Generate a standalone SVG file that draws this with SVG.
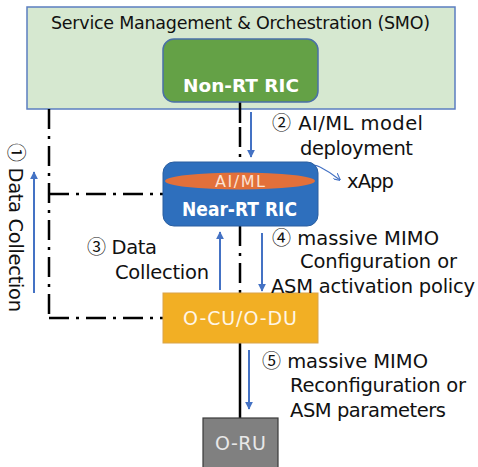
<svg xmlns="http://www.w3.org/2000/svg" width="478" height="467" viewBox="0 0 478 467">
<defs>
<style>
text{font-family:"DejaVu Sans","Noto Sans","Noto Sans CJK KR",sans-serif;}
.lbl{font-size:19.5px;fill:#111;}
.num{font-family:"Noto Sans CJK KR","DejaVu Sans",sans-serif;font-size:19px;}
.dd{stroke:#000;stroke-width:2.5;fill:none;stroke-dasharray:20 7 3 7;}
.solid{stroke:#000;stroke-width:2.5;fill:none;}
.flow{stroke:#4472C4;stroke-width:2;fill:none;}
</style>
<marker id="ah" viewBox="0 0 10 10" refX="9" refY="5" markerWidth="4" markerHeight="4" orient="auto-start-reverse">
<path d="M0,0 L10,5 L0,10 z" fill="#4472C4"/>
</marker>
<marker id="open" viewBox="0 0 10 10" refX="9" refY="5" markerWidth="6" markerHeight="6" orient="auto">
<path d="M0,0 L10,5 L0,10" fill="none" stroke="#4472C4" stroke-width="1.5"/>
</marker>
</defs>

<g id="smo">
<rect x="27" y="7" width="428" height="102" fill="#D6E8D0" stroke="#5B7EC0" stroke-width="1.5"/>
<text x="51" y="29" font-size="17.5" fill="#111" textLength="379" lengthAdjust="spacing">Service Management &amp; Orchestration (SMO)</text>
</g>

<g id="connectors">
<line class="solid" x1="240" y1="102" x2="240" y2="123"/>
<line class="dd" x1="240" y1="127" x2="240" y2="162" stroke-dasharray="3 4 12 4"/>
<line class="dd" x1="240" y1="226" x2="240" y2="293" stroke-dasharray="7 2.5 2 2.5"/>
<line class="dd" x1="49" y1="109" x2="49" y2="318"/>
<line class="dd" x1="49" y1="194" x2="163" y2="194"/>
<line class="dd" x1="49" y1="318" x2="163" y2="318"/>
<line class="solid" x1="240" y1="343" x2="240" y2="418"/>
<line class="flow" x1="34" y1="293" x2="34" y2="172" marker-end="url(#ah)"/>
<line class="flow" x1="251" y1="112" x2="251" y2="157" marker-end="url(#ah)"/>
<line class="flow" x1="220" y1="290" x2="220" y2="232" marker-end="url(#ah)"/>
<line class="flow" x1="262" y1="233" x2="262" y2="291" marker-end="url(#ah)"/>
<line class="flow" x1="249" y1="350" x2="249" y2="409" marker-end="url(#ah)"/>
<path d="M293,170 Q312,162 320,167 Q330,172 340,180" fill="none" stroke="#4472C4" stroke-width="1.2" marker-end="url(#open)"/>
</g>

<g id="non-rt-ric">
<rect x="163" y="39" width="155" height="63" rx="11" fill="#64A146" stroke="#4A6FA8" stroke-width="1.5"/>
<text x="183" y="92" font-size="18.5" font-weight="bold" fill="#fff" textLength="116" lengthAdjust="spacingAndGlyphs">Non-RT RIC</text>
</g>

<g id="near-rt-ric">
<rect x="163" y="162" width="155" height="64" rx="11" fill="#2E6FBD" stroke="#2A5EA0" stroke-width="1"/>
<ellipse cx="240" cy="181" rx="75" ry="8.5" fill="#E2703A"/>
<text x="215" y="187" font-size="16" fill="#FCE2D2" textLength="50" lengthAdjust="spacing">AI/ML</text>
<text x="182" y="216" font-size="19" font-weight="bold" fill="#fff" textLength="115" lengthAdjust="spacingAndGlyphs">Near-RT RIC</text>
</g>

<g id="o-cu-du">
<rect x="163" y="293" width="155" height="50" fill="#F2AF24" stroke="#D9A44A" stroke-width="1"/>
<text x="183" y="325" font-size="19" fill="#FFF6E6" textLength="114" lengthAdjust="spacing">O-CU/O-DU</text>
</g>

<g id="o-ru">
<rect x="203" y="418" width="75" height="55" fill="#808080" stroke="#3a3a3a" stroke-width="1.2"/>
<text x="215" y="450" font-size="19" fill="#E8E8E8" textLength="51" lengthAdjust="spacing">O-RU</text>
</g>

<g id="labels">
<text class="lbl" transform="translate(9,143) rotate(90)" textLength="169" lengthAdjust="spacing"><tspan class="num">①</tspan> Data Collection</text>
<text class="lbl" x="272" y="130" textLength="151" lengthAdjust="spacing"><tspan class="num">②</tspan> AI/ML model</text>
<text class="lbl" x="300" y="155" textLength="113" lengthAdjust="spacing">deployment</text>
<text class="lbl" x="347" y="188" textLength="47" lengthAdjust="spacing">xApp</text>
<text class="lbl" x="87" y="254" textLength="70" lengthAdjust="spacing"><tspan class="num">③</tspan> Data</text>
<text class="lbl" x="115" y="279" textLength="94" lengthAdjust="spacing">Collection</text>
<text class="lbl" x="272" y="245" textLength="167" lengthAdjust="spacing"><tspan class="num">④</tspan> massive MIMO</text>
<text class="lbl" x="300" y="268" textLength="157" lengthAdjust="spacing">Configuration or</text>
<text class="lbl" x="271" y="293" textLength="204" lengthAdjust="spacing">ASM activation policy</text>
<text class="lbl" x="262" y="368" textLength="166" lengthAdjust="spacing"><tspan class="num">⑤</tspan> massive MIMO</text>
<text class="lbl" x="290" y="392" textLength="176" lengthAdjust="spacing">Reconfiguration or</text>
<text class="lbl" x="290" y="417" textLength="156" lengthAdjust="spacing">ASM parameters</text>
</g>
</svg>
